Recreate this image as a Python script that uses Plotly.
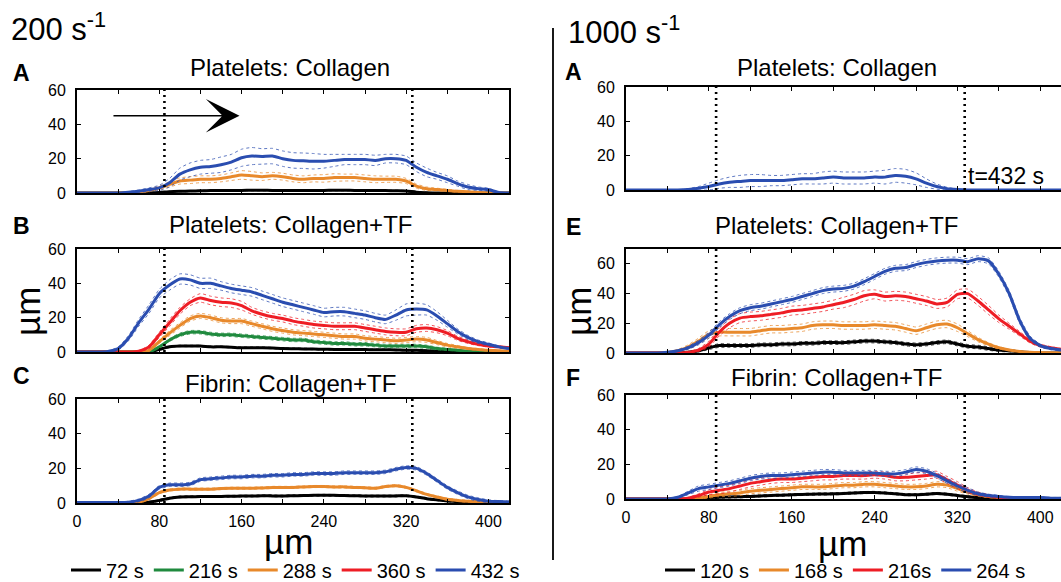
import plotly.graph_objects as go

W, H = 1061, 582
FONT = "Liberation Sans, Arial, sans-serif"

# ---------------- data (position along channel, µm) ----------------
X_UM = list(range(0, 430, 10))

# 200 s^-1, panel A: Platelets, Collagen
A200_black = [0]*7 + [0.1, 0.3, 0.8, 1, 1.1, 1.3, 1.4, 1.4, 1.5, 1.5, 1.6, 1.6, 1.5, 1.5, 1.4, 1.4, 1.5, 1.5,
              1.6, 1.6, 1.5, 1.5, 1.5, 1.4, 1.3, 1.2, 0.5, 0.2] + [0]*8
A200_black_sd = [0]*7 + [0.3]*28 + [0]*8
A200_orange = [0]*6 + [0.5, 1.5, 3, 5, 7, 7.5, 8, 8, 8.5, 9.5, 10.5, 10, 9.5, 10, 9.5, 8.5, 8, 8.5, 8.5, 9, 9, 9,
               8.5, 8, 8, 8, 7, 4, 2.5, 2, 1.5, 1, 0.8, 0.3, 0, 0, 0]
A200_orange_sd = [0]*6 + [0.3, 0.8, 1, 1.5, 1.8, 2, 2, 2, 2, 2.2, 2.5, 2.5, 2.2, 2, 2, 2, 2, 2, 2.2, 2.2, 2, 2, 2, 2,
                  1.8, 1.8, 1.5, 1.2, 1, 0.8, 0.6, 0.5, 0.4, 0.2, 0, 0, 0]
A200_blue = [0]*5 + [0.5, 1, 2, 3, 6, 11, 13.5, 15, 15.5, 16.5, 18, 20.5, 21.5, 21.3, 21.5, 20, 19, 18.8, 18.5, 18.5,
             19, 19.5, 19.5, 19.5, 19, 20, 20, 19, 15, 12, 10, 8, 5.5, 3.5, 2.5, 2, 0.3, 0]
A200_blue_sd = [0]*5 + [0.3, 0.8, 1, 1.5, 2.5, 3.5, 4, 4, 4, 4.5, 4.5, 5, 5, 4.5, 4.5, 4.5, 4.5, 4.5, 4.5, 4, 3.5, 3,
                3, 3, 3, 2.5, 2.5, 2.5, 2.5, 2.5, 2, 2, 1.5, 1.5, 1, 0.8, 0.3, 0]

# 200 s^-1, panel B: Platelets, Collagen+TF
B200_black = [0]*8 + [1.5, 3, 3.5, 3.5, 3.5, 3, 3, 2.8, 2.5, 2.5, 2.5, 2.3, 2, 1.9, 1.8, 1.7, 1.6, 1.5, 1.5, 1.4,
                      1.4, 1.3, 1.3, 1.2, 1, 1, 0.8, 0.5, 0.3] + [0]*6
B200_black_sd = [0]*8 + [0.4]*29 + [0]*6
B200_green = [0]*8 + [3, 7, 10, 11.5, 11.5, 10.5, 10, 10, 9.5, 9, 8.5, 8, 7.5, 7, 7, 6, 5.5, 5, 5, 4.5, 4.5, 4,
                      3.5, 3.5, 3.5, 3.5, 3, 2, 1.5, 1, 0.5, 0.3, 0, 0, 0]
B200_green_sd = [0]*8 + [0.5, 0.8, 1, 1, 1, 1, 1, 1, 1, 1, 1, 1, 1, 1, 1, 1, 1, 1, 1, 1, 1, 1, 1, 1, 1, 1, 1,
                         0.8, 0.6, 0.5, 0.3, 0.2, 0, 0, 0]
B200_orange = [0]*7 + [1, 6, 11, 15.5, 19.5, 21, 20, 18.5, 18, 18, 16.5, 15, 13.5, 12.5, 11.5, 11, 10.5, 10, 9.5,
                       9, 9, 8, 7.5, 7, 6.5, 7, 7.5, 7, 5.5, 4, 3, 2, 1.5, 1, 0.8, 0.5]
B200_orange_sd = [0]*7 + [0.5, 1, 1.5, 1.5, 1.5, 1.5, 1.5, 1.5, 1.5, 1.5, 1.5, 1.5, 1.5, 1.5, 1.5, 1.5, 1.5, 1.5,
                          1.5, 1.5, 1.5, 1.5, 1.5, 1.5, 1.5, 1.5, 1.5, 1.5, 1.2, 1, 0.8, 0.6, 0.5, 0.4, 0.3, 0.3]
B200_red = [0]*6 + [0.5, 3, 10, 17, 24, 29, 31.5, 30, 29, 28.5, 27, 24, 22, 20.5, 19.5, 18, 17, 16, 15.5, 15, 15,
                    15, 14, 13, 12, 11.5, 11.5, 13.5, 14, 13, 11, 8, 6, 4.5, 3.5, 3, 2.5]
B200_red_sd = [0]*6 + [0.3, 1, 1.5, 2, 2, 2, 2.5, 2.5, 2.5, 2.5, 2.5, 2, 2, 2, 2, 2, 2, 2, 2, 2, 2, 2, 2, 2, 2, 2,
                       2, 2, 2, 1.8, 1.5, 1.2, 1, 0.8, 0.6, 0.5, 0.5]
B200_blue = [0, 0, 0, 0.3, 2, 8, 17, 25, 34, 39, 42.5, 42, 40, 40, 38.5, 37, 36, 35, 33, 31, 29, 27.5, 26, 24.5,
             23, 23.5, 23.5, 22.5, 21.5, 20, 19, 21.5, 24.5, 25, 24.5, 21, 16.5, 12, 8.5, 6, 4.5, 3, 2]
B200_blue_sd = [0, 0, 0, 0.3, 1, 1.5, 2, 2.5, 2.5, 3, 3, 3, 3, 3, 2.5, 2.5, 2.5, 2.5, 2.5, 2.5, 2.5, 2.5, 2.5, 2.5,
                2.5, 2.5, 2.5, 2.5, 2.5, 2.5, 2.5, 3, 3.5, 3.5, 3, 2.5, 2, 1.5, 1.2, 1, 0.8, 0.6, 0.5]

# 200 s^-1, panel C: Fibrin, Collagen+TF
C200_black = [0.2]*7 + [0.5, 1.5, 2.8, 3.5, 3.6, 3.7, 3.8, 3.8, 3.9, 4, 4, 4.2, 4.1, 4, 4.2, 4.3, 4.4, 4.5, 4.4,
                        4.3, 4.2, 4, 4, 4, 4.1, 4.2, 3.5, 2.5, 1.8, 1.2, 0.8, 0.5, 0.3, 0.3, 0.3, 0.3]
C200_black_sd = [0]*7 + [0.5]*32 + [0]*4
C200_orange = [0.2]*6 + [0.5, 2.5, 6, 7.5, 8, 8, 8, 8, 8.3, 8.5, 8.5, 8.5, 8.7, 9, 9, 9, 9.3, 9.5, 9.5, 9.3, 9.3,
                         9, 8.8, 8.5, 9.5, 10, 9, 7, 5, 3.5, 2.2, 1.5, 1, 0.7, 0.5, 0.3, 0.3]
C200_orange_sd = [0]*6 + [0.6]*34 + [0]*3
C200_blue = [0.3, 0.3, 0.3, 0.3, 0.3, 0.5, 1.5, 4, 9, 10.5, 10.5, 11, 13.5, 14, 14.5, 15, 15, 15.5, 15.5, 16, 16,
             16.5, 16.5, 17, 17, 17, 17.5, 17.5, 17.5, 17.5, 18, 19.5, 20.5, 20, 17, 13, 9, 6, 3.5, 2, 1, 0.8, 0.6]
C200_blue_sd = [0]*5 + [0.5, 0.8] + [1]*33 + [0.8, 0.6, 0.5]

# 1000 s^-1, panel A: Platelets, Collagen (t = 432 s)
A1000_blue = [0]*6 + [0.3, 1, 2, 3.5, 4.5, 5, 5.5, 5.5, 5.5, 5.5, 6, 6.5, 6.5, 7, 7.5, 7, 7, 7, 7.5, 7.5, 8.5, 8,
                      6.5, 4, 2, 0.8, 0.3] + [0]*10
A1000_blue_sd = [0]*6 + [0.5, 1, 2, 2.5, 3, 3.5, 3.5, 3.5, 3, 3, 3, 3, 3, 3.5, 3.5, 3.5, 3.5, 3.5, 3.5, 4, 4, 4,
                         3.5, 2.5, 1.5, 0.8, 0.3] + [0]*10

# 1000 s^-1, panel E: Platelets, Collagen+TF
E1000_black = [0]*6 + [0.5, 1.5, 3.5, 5, 5, 5, 5, 5.5, 5.5, 6, 6, 6.5, 6.5, 7, 7, 7, 7.5, 8, 8, 7.5, 7, 6, 5.5, 6,
                       7, 7.5, 6, 4.5, 4, 3, 2, 1.5, 0.8, 0.3, 0, 0, 0]
E1000_black_sd = [0]*6 + [0.5, 0.8] + [1.2]*28 + [1, 0.8, 0.5, 0.3, 0, 0, 0]
E1000_orange = [0, 0, 0, 0, 0.3, 1.5, 4, 8, 12.5, 14, 14, 14, 14, 15, 16, 16, 16.5, 17, 18.5, 19, 19, 18.5, 18.5,
                18.5, 19, 18.5, 18, 16.5, 15, 17, 19, 19.5, 17, 13, 9, 6, 3.5, 2, 1, 0.5, 0.3, 0.2, 0]
E1000_orange_sd = [0, 0, 0, 0, 0.3, 0.8, 1.5, 2, 2.5, 2.5, 2.5, 2.5, 2.5, 2.5, 2.5, 2.5, 2.5, 2.5, 2.5, 2.5, 2.5,
                   2.5, 2.5, 2.5, 2.5, 2.5, 2.5, 2.5, 2.5, 2.5, 2.5, 2.5, 2.5, 2, 1.5, 1, 0.8, 0.5, 0.3, 0.2, 0, 0, 0]
E1000_red = [0]*6 + [0.5, 2, 6, 14, 20, 23.5, 24.5, 25, 26, 27, 28.5, 29, 30, 31, 32.5, 34, 36, 38.5, 39.5, 38,
                     38.5, 38, 36.5, 35, 33, 34, 39.5, 40, 35, 29, 23, 18, 13, 8, 5, 3.5, 2.5]
E1000_red_sd = [0]*6 + [0.5, 1, 2, 2.5, 3, 3, 3, 3, 3, 3, 3, 3, 3, 3, 3, 3.5, 3.5, 3.5, 3, 3, 3, 3, 3, 3, 3, 3,
                        3, 3, 3, 3, 2.5, 2, 1.5, 1.2, 1, 0.8, 0.5]
E1000_blue = [0, 0, 0, 0, 0.5, 1.5, 3.5, 7, 12, 19, 24.5, 28.5, 30.5, 31.5, 33, 34.5, 36, 38, 40, 42, 43, 43.5,
              45, 48, 51.5, 55, 57, 57.5, 59.5, 61, 62, 62.5, 62.5, 61.5, 63.5, 62, 53, 40, 22, 10, 5, 3, 2]
E1000_blue_sd = [0, 0, 0, 0, 0.3, 0.5, 1, 1.5, 2, 2, 2, 2, 2, 2, 2, 2, 2, 2, 2, 2, 2, 2, 2, 2, 2, 2, 2, 2, 2, 2,
                 2, 2, 2, 2, 2, 2, 2, 2, 2, 1.5, 1, 0.8, 0.5]

# 1000 s^-1, panel F: Fibrin, Collagen+TF
F1000_black = [0]*7 + [0.3, 0.8, 1, 1.2, 1.3, 1.5, 1.8, 2, 2.2, 2.5, 2.6, 2.8, 2.9, 3, 3.2, 3.5, 3.7, 3.8, 3.5,
                       3, 2.5, 2.5, 2.8, 3.2, 2.8, 2, 1.3, 0.8, 0.5, 0.3] + [0]*6
F1000_black_sd = [0]*7 + [0.6]*30 + [0]*6
F1000_orange = [0]*7 + [0.5, 1.5, 2.5, 3, 3.5, 4.5, 5, 5.5, 6, 6.5, 7, 7, 7, 7.5, 8, 8, 8.5, 8.5, 8, 7.5, 7, 7,
                        7.5, 8.5, 8, 6, 4, 2.5, 1.5, 1, 0.5, 0.3] + [0]*4
F1000_orange_sd = [0]*7 + [0.5, 1, 1.2] + [1.5]*23 + [1.2, 1, 0.8, 0.6, 0.4, 0.3] + [0]*4
F1000_red = [0]*6 + [0.5, 2, 4, 5, 6, 7.5, 9, 10, 11, 11.5, 11.5, 12, 12.5, 13, 13, 13.5, 13.5, 13.5, 14, 13.5,
                     12.5, 12.5, 13, 13.5, 14, 11, 8, 5, 3, 1.8, 1, 0.5, 0.3] + [0]*4
F1000_red_sd = [0]*6 + [0.5, 1, 1.5] + [2]*24 + [1.5, 1, 0.8, 0.5, 0.3, 0.2] + [0]*4
F1000_blue = [0]*5 + [1, 3.5, 6, 7, 8, 9, 10.5, 12, 13, 13.5, 13.5, 14, 14.5, 15, 15.5, 15.5, 15, 15, 15, 15, 14.5,
                      14.5, 15.5, 17, 16, 13.5, 10.5, 7.5, 5, 3, 2, 1.5, 1, 0.8, 0.8, 0.8, 0.5, 0.5]
F1000_blue_sd = [0]*5 + [0.5, 1, 1.5] + [1.5]*26 + [1, 0.8, 0.6, 0.5, 0.5, 0.5, 0.4, 0.4, 0.4]

# reference marks (µm)
COLLAGEN_EDGES_200 = [85, 326]
COLLAGEN_EDGES_1000 = [87, 327]
FLOW_ARROW = dict(x0=34, x1=158, y=45)

LEGEND_200 = ["72 s", "216 s", "288 s", "360 s", "432 s"]
LEGEND_1000 = ["120 s", "168 s", "216s", "264 s"]

COL = {"black": "#000000", "green": "#1f8a3e", "orange": "#e8892b", "red": "#ee1d25", "blue": "#2a4db0"}

# ---------------- layout geometry (pixels) ----------------
PANELS = [
    dict(ax="", xs=(77, 509), ys=(90, 193), yr=[0, 60], yt=[0, 20, 40, 60], bottom=False, right=True),
    dict(ax="2", xs=(77, 509), ys=(249, 352), yr=[0, 60], yt=[0, 20, 40, 60], bottom=False, right=True),
    dict(ax="3", xs=(77, 509), ys=(399, 503), yr=[0, 60], yt=[0, 20, 40, 60], bottom=True, right=True),
    dict(ax="4", xs=(626, 1061), ys=(87, 190), yr=[0, 60], yt=[0, 20, 40, 60], bottom=False, right=False),
    dict(ax="5", xs=(626, 1061), ys=(249, 353), yr=[0, 70], yt=[0, 20, 40, 60], bottom=False, right=False),
    dict(ax="6", xs=(626, 1061), ys=(395, 499), yr=[0, 60], yt=[0, 20, 40, 60], bottom=True, right=False),
]

fig = go.Figure()

XT = list(range(0, 401, 40))
XT_TEXT = [str(v) if v % 80 == 0 else "" for v in XT]

layout_axes = {}
for p in PANELS:
    a = p["ax"]
    xd = [p["xs"][0] / W, min(p["xs"][1] / W, 1.0)]
    yd = [1 - p["ys"][1] / H, 1 - p["ys"][0] / H]
    xa = dict(
        domain=xd, range=[0, 420], anchor="y" + a, tickvals=XT,
        ticks="inside", ticklen=4, tickwidth=1.2, tickcolor="black",
        showline=True, linecolor="black", linewidth=1.8, mirror="ticks",
        showgrid=False, zeroline=False, tickfont=dict(size=16, family=FONT, color="black"),
    )
    if p["bottom"]:
        xa.update(ticktext=XT_TEXT, showticklabels=True, ticklabelstandoff=3)
    else:
        xa.update(showticklabels=False)
    layout_axes["xaxis" + a] = xa
    layout_axes["yaxis" + a] = dict(
        domain=yd, range=p["yr"], anchor="x" + a, tickvals=p["yt"],
        ticks="inside", ticklen=4, tickwidth=1.2, tickcolor="black",
        showline=True, linecolor="black", linewidth=1.8, mirror="ticks" if p["right"] else False,
        showgrid=False, zeroline=False, tickfont=dict(size=16, family=FONT, color="black"),
        ticklabelstandoff=6,
    )
fig.update_layout(**layout_axes)


def add_series(ax, mean, sd, color, name=None, legend=None):
    xa, ya = "x" + ax, "y" + ax
    up = [m + s for m, s in zip(mean, sd)]
    lo = [max(m - s, 0) for m, s in zip(mean, sd)]
    for env in (up, lo):
        fig.add_trace(go.Scatter(x=X_UM, y=env, xaxis=xa, yaxis=ya, mode="lines",
                                 line=dict(color=COL[color], width=1, dash="dot", shape="spline", smoothing=0.6),
                                 showlegend=False, hoverinfo="skip", opacity=0.75))
    fig.add_trace(go.Scatter(x=X_UM, y=mean, xaxis=xa, yaxis=ya, mode="lines",
                             line=dict(color=COL[color], width=3, shape="spline", smoothing=0.6),
                             name=name or color, showlegend=legend is not None,
                             legend=legend or "legend"))


_all = {k: v for k, v in dict(globals()).items()
        if (k[:1] in "ABCEF") and k[1:5] in ("200_", "1000") and isinstance(v, list)}
_bad = [k + ":" + str(len(v)) for k, v in _all.items() if len(v) != len(X_UM)]
assert not _bad, _bad

# 200 s^-1
add_series("", A200_black, A200_black_sd, "black")
add_series("", A200_orange, A200_orange_sd, "orange")
add_series("", A200_blue, A200_blue_sd, "blue")

add_series("2", B200_black, B200_black_sd, "black", LEGEND_200[0], "legend")
add_series("2", B200_green, B200_green_sd, "green", LEGEND_200[1], "legend")
add_series("2", B200_orange, B200_orange_sd, "orange", LEGEND_200[2], "legend")
add_series("2", B200_red, B200_red_sd, "red", LEGEND_200[3], "legend")
add_series("2", B200_blue, B200_blue_sd, "blue", LEGEND_200[4], "legend")

add_series("3", C200_black, C200_black_sd, "black")
add_series("3", C200_orange, C200_orange_sd, "orange")
add_series("3", C200_blue, C200_blue_sd, "blue")

# 1000 s^-1
add_series("4", A1000_blue, A1000_blue_sd, "blue")

add_series("5", E1000_black, E1000_black_sd, "black", LEGEND_1000[0], "legend2")
add_series("5", E1000_orange, E1000_orange_sd, "orange", LEGEND_1000[1], "legend2")
add_series("5", E1000_red, E1000_red_sd, "red", LEGEND_1000[2], "legend2")
add_series("5", E1000_blue, E1000_blue_sd, "blue", LEGEND_1000[3], "legend2")

add_series("6", F1000_black, F1000_black_sd, "black")
add_series("6", F1000_orange, F1000_orange_sd, "orange")
add_series("6", F1000_red, F1000_red_sd, "red")
add_series("6", F1000_blue, F1000_blue_sd, "blue")

# dotted collagen-patch edges
shapes = []
for ax, edges in [("", COLLAGEN_EDGES_200), ("2", COLLAGEN_EDGES_200), ("3", COLLAGEN_EDGES_200),
                  ("4", COLLAGEN_EDGES_1000), ("5", COLLAGEN_EDGES_1000), ("6", COLLAGEN_EDGES_1000)]:
    for e in edges:
        shapes.append(dict(type="line", xref="x" + ax, yref=("y" + ax) + " domain", x0=e, x1=e, y0=0, y1=1,
                           line=dict(color="black", width=2.6, dash="2px,4px")))
# separator
shapes.append(dict(type="line", xref="paper", yref="paper", x0=553 / W, x1=553 / W, y0=1 - 28 / H, y1=1 - 560 / H,
                   line=dict(color="black", width=1.8)))

ann = []


def txt(text, xp, yp, size, bold=False, xanchor="center", yanchor="middle"):
    ann.append(dict(text=("<b>%s</b>" % text) if bold else text, x=xp / W, y=1 - yp / H, xref="paper",
                    yref="paper", showarrow=False, xanchor=xanchor, yanchor=yanchor,
                    font=dict(size=size, family=FONT, color="black")))


txt("200 s<sup>-1</sup>", 9, 27, 31, xanchor="left")
txt("1000 s<sup>-1</sup>", 566, 30, 31, xanchor="left")
for letter, xp, yp in [("A", 21, 73), ("B", 21, 226), ("C", 21, 376), ("A", 573, 72), ("E", 573, 227),
                       ("F", 573, 378)]:
    txt(letter, xp, yp, 23, bold=True)
for title, xp, yp in [("Platelets: Collagen", 290, 67), ("Platelets: Collagen+TF", 290, 225),
                      ("Fibrin: Collagen+TF", 290, 383), ("Platelets: Collagen", 837, 67),
                      ("Platelets: Collagen+TF", 836, 226), ("Fibrin: Collagen+TF", 836, 377)]:
    txt(title, xp, yp, 24)
# axis titles
txt("µm", 288, 541, 35)
txt("µm", 842, 543, 35)
for xp in (27, 578):
    ann.append(dict(text="µm", x=xp / W, y=1 - 312 / H, xref="paper", yref="paper", showarrow=False,
                    textangle=-90, font=dict(size=35, family=FONT, color="black"),
                    xanchor="center", yanchor="middle"))
# time label on 1000 s^-1 A
ann.append(dict(text="t=432 s", x=COLLAGEN_EDGES_1000[1] + 1, y=8, xref="x4", yref="y4", showarrow=False,
                xanchor="left", yanchor="middle", font=dict(size=23, family=FONT, color="black")))
# flow direction arrow
ann.append(dict(text="", x=FLOW_ARROW["x1"], y=FLOW_ARROW["y"], ax=FLOW_ARROW["x0"], ay=FLOW_ARROW["y"],
                xref="x", yref="y", axref="x", ayref="y", showarrow=True, arrowhead=3, arrowsize=3.3,
                arrowwidth=1.7, arrowcolor="black"))

fig.update_layout(
    width=W, height=H, margin=dict(l=0, r=0, t=0, b=0, autoexpand=False),
    paper_bgcolor="white", plot_bgcolor="white",
    shapes=shapes, annotations=ann,
    legend=dict(orientation="h", x=66 / W, y=1 - 570 / H, xanchor="left", yanchor="middle",
                font=dict(size=20, family=FONT, color="black"), itemwidth=30, tracegroupgap=0,
                bgcolor="rgba(0,0,0,0)"),
    legend2=dict(orientation="h", x=660 / W, y=1 - 570 / H, xanchor="left", yanchor="middle",
                 font=dict(size=20, family=FONT, color="black"), itemwidth=30,
                 bgcolor="rgba(0,0,0,0)"),
)

fig.write_html("out.html")
